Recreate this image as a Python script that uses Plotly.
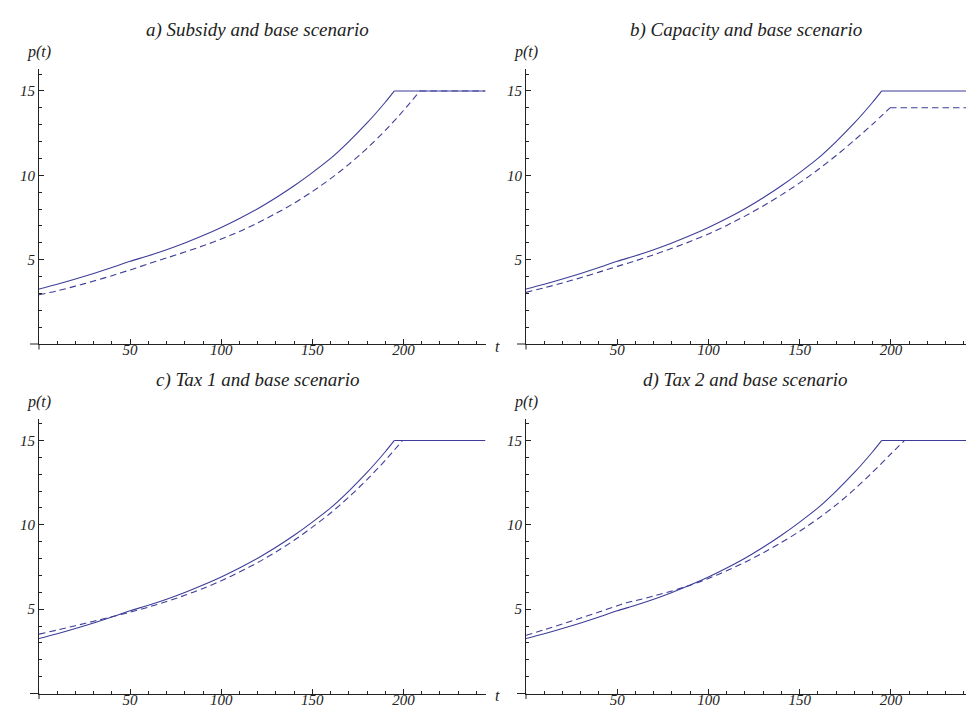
import plotly.graph_objects as go

# ---------------- data ----------------
t_base = [0, 10, 20, 30, 40, 50, 60, 70, 80, 90, 100, 110, 120, 130, 140, 150,
          160, 170, 180, 190, 195, 245]
p_base = [3.26, 3.54, 3.85, 4.18, 4.53, 4.90, 5.23, 5.59, 5.99, 6.43, 6.91, 7.44,
          8.02, 8.67, 9.38, 10.16, 11.0, 12.0, 13.1, 14.33, 15.0, 15.0]

t_subsidy = [0, 10, 20, 30, 40, 50, 60, 70, 80, 90, 100, 110, 120, 130, 140, 150,
             160, 170, 180, 190, 200, 209, 245]
p_subsidy = [2.92, 3.15, 3.43, 3.73, 4.05, 4.39, 4.75, 5.10, 5.45, 5.82, 6.22, 6.67,
             7.18, 7.74, 8.35, 9.04, 9.80, 10.65, 11.6, 12.66, 13.84, 15.0, 15.0]

t_capacity = [0, 10, 20, 30, 40, 50, 60, 70, 80, 90, 100, 110, 120, 130, 140, 150,
              160, 170, 180, 190, 199.5, 245]
p_capacity = [3.06, 3.33, 3.62, 3.93, 4.26, 4.60, 4.93, 5.29, 5.67, 6.08, 6.52, 7.03,
              7.58, 8.18, 8.84, 9.55, 10.33, 11.17, 12.08, 13.03, 14.0, 14.0]

t_tax1 = [0, 10, 20, 30, 40, 50, 60, 70, 80, 90, 100, 110, 120, 130, 140, 150,
          160, 170, 180, 190, 199.5, 245]
p_tax1 = [3.52, 3.76, 4.02, 4.28, 4.55, 4.82, 5.12, 5.45, 5.82, 6.23, 6.68, 7.20,
          7.76, 8.39, 9.08, 9.86, 10.70, 11.64, 12.68, 13.82, 15.0, 15.0]

t_tax2 = [0, 10, 20, 30, 40, 50, 55, 60, 70, 80, 90, 100, 110, 120, 130, 140, 150,
          160, 170, 180, 190, 200, 207.5, 245]
p_tax2 = [3.45, 3.78, 4.12, 4.47, 4.83, 5.20, 5.38, 5.50, 5.78, 6.08, 6.42, 6.82,
          7.27, 7.78, 8.34, 8.95, 9.62, 10.36, 11.18, 12.1, 13.12, 14.2, 15.0, 15.0]

titles = ["a) Subsidy and base scenario", "b) Capacity and base scenario",
          "c) Tax 1 and base scenario", "d) Tax 2 and base scenario"]
scenarios = [(t_subsidy, p_subsidy), (t_capacity, p_capacity),
             (t_tax1, p_tax1), (t_tax2, p_tax2)]

x_tickvals = [50, 100, 150, 200]
y_tickvals = [5, 10, 15]
x_range = [0, 245]
y_range = [0, 16.3]

# ---------------- styling / layout ----------------
W, H = 974, 705
LINE = "#3d3d99"
AX = "#222222"
FONT = "Liberation Serif, Times New Roman, Times, DejaVu Serif, serif"

x_px = [(31, 477.5), (518, 965), (31, 477.5), (518, 965)]
y_px = [(336, 61), (336, 61), (685.5, 410.5), (685.5, 410.5)]

fig = go.Figure()
annotations = []
shapes = []


def add_curve(t, p, xa, ya, dash):
    # rising part drawn smoothly, flat (capped) part straight
    k = len(t) - 1
    line = dict(color=LINE, width=1.1, dash=dash)
    fig.add_trace(go.Scatter(x=t[:k], y=p[:k], mode="lines", xaxis=xa, yaxis=ya,
                             line=dict(line, shape="spline", smoothing=0.8),
                             showlegend=False, hoverinfo="skip"))
    fig.add_trace(go.Scatter(x=t[k - 1:], y=p[k - 1:], mode="lines", xaxis=xa,
                             yaxis=ya, line=line, showlegend=False, hoverinfo="skip"))


for i in range(4):
    n = "" if i == 0 else str(i + 1)
    xa, ya = "x" + n, "y" + n
    (x0, x1), (yb, yt) = x_px[i], y_px[i]
    dx = [x0 / W, x1 / W]
    dy = [(H - yb) / H, (H - yt) / H]
    t_s, p_s = scenarios[i]
    add_curve(t_base, p_base, xa, ya, "solid")
    add_curve(t_s, p_s, xa, ya, "6.5px,4px")
    common_font = dict(family=FONT, size=15, color=AX, style="italic")
    fig.layout["xaxis" + n] = dict(
        domain=dx, range=x_range, anchor=ya, showline=True, linecolor=AX,
        linewidth=1, ticks="inside", ticklen=5, tickwidth=1, tickcolor=AX,
        tickvals=x_tickvals, ticktext=[str(v) for v in x_tickvals],
        minor=dict(ticks="inside", dtick=10, tick0=0, ticklen=3, tickwidth=1,
                   tickcolor=AX, showgrid=False),
        ticklabelstandoff=-8,
        showgrid=False, zeroline=False, tickfont=common_font, fixedrange=True)
    fig.layout["yaxis" + n] = dict(
        domain=dy, range=y_range, anchor=xa, showline=True, linecolor=AX,
        linewidth=1, ticks="inside", ticklen=5, tickwidth=1, tickcolor=AX,
        tickvals=y_tickvals, ticktext=[str(v) for v in y_tickvals],
        minor=dict(ticks="inside", dtick=1, tick0=0, ticklen=3, tickwidth=1,
                   tickcolor=AX, showgrid=False),
        showgrid=False, zeroline=False, tickfont=common_font, fixedrange=True)
    shapes.append(dict(type="line", xref=xa + " domain", yref=ya + " domain",
                       x0=-9 / (x1 - x0), x1=0, y0=0, y1=0,
                       line=dict(color=AX, width=1)))
    shapes.append(dict(type="line", xref=xa + " domain", yref=ya + " domain",
                       x0=0, x1=0, y0=-5.5 / (yb - yt), y1=0,
                       line=dict(color=AX, width=1)))
    cx = 250 if i % 2 == 0 else 737.5
    cy = 22 if i < 2 else 372
    annotations.append(dict(text=titles[i], x=cx / W, y=(H - cy) / H,
                            xref="paper", yref="paper", showarrow=False,
                            xanchor="center", yanchor="middle",
                            font=dict(family=FONT, size=19, color=AX, style="italic")))
    annotations.append(dict(text="p(t)", x=x0 / W, y=(H - (yt - 17)) / H,
                            xref="paper", yref="paper", showarrow=False,
                            xanchor="center", yanchor="middle",
                            font=dict(family=FONT, size=16, color=AX, style="italic")))
    if i % 2 == 0:
        annotations.append(dict(text="t", x=490 / W, y=(H - (yb + 2)) / H,
                                xref="paper", yref="paper", showarrow=False,
                                xanchor="center", yanchor="middle",
                                font=dict(family=FONT, size=16, color=AX, style="italic")))

fig.update_layout(width=W, height=H, margin=dict(l=0, r=0, t=0, b=0),
                  paper_bgcolor="white", plot_bgcolor="white",
                  annotations=annotations, shapes=shapes, showlegend=False)

fig.write_html("out.html")
